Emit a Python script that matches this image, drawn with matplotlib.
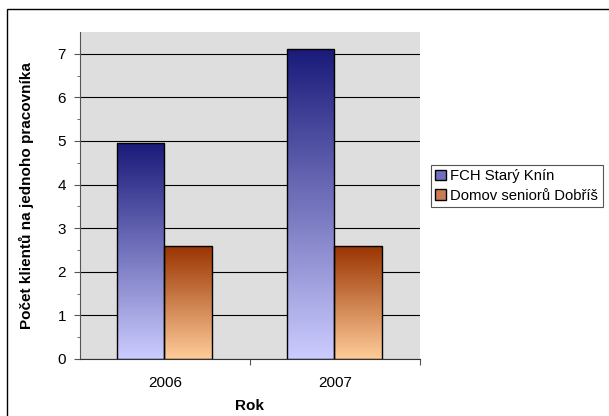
import numpy as np
import matplotlib.pyplot as plt
from matplotlib.colors import LinearSegmentedColormap
from matplotlib.patches import Rectangle, Patch

plt.rcParams['font.family'] = ['Liberation Sans', 'DejaVu Sans']

years = ['2006', '2007']
series = ['FCH Starý Knín', 'Domov seniorů Dobříš']
stary_knin = [4.95, 7.1]
dobris = [2.6, 2.6]

# top (dark) -> bottom (light) colours for each series
grad_colors = [('#1a1a7a', '#ccccff'), ('#993300', '#ffcc99')]


def gradient_bars(ax, bars, top_col, bottom_col):
    cmap = LinearSegmentedColormap.from_list('g', [bottom_col, top_col])
    grad = np.linspace(0, 1, 256).reshape(-1, 1)
    for b in bars:
        x0, y0 = b.get_x(), b.get_y()
        w, h = b.get_width(), b.get_height()
        im = ax.imshow(grad, cmap=cmap, origin='lower', aspect='auto',
                       extent=(x0, x0 + w, y0, y0 + h), zorder=2)
        im.set_clip_path(b)
        b.set_facecolor('none')
        b.set_zorder(3)


fig = plt.figure(figsize=(6.09, 4.16), dpi=100)
ax = fig.add_axes([80 / 609, 1 - 359 / 416, 340 / 609, 327 / 416])

# chart frame
fig.patches.append(Rectangle((7 / 609, -0.1), 1.0, 1.1 - 9 / 416, transform=fig.transFigure,
                             fill=False, edgecolor='black', linewidth=1.0))

ax.set_facecolor('#dedede')
x = np.arange(len(years))
w = 0.28
b1 = ax.bar(x - 0.145, stary_knin, w, edgecolor='black', linewidth=1.0)
b2 = ax.bar(x + 0.135, dobris, w, edgecolor='black', linewidth=1.0)
gradient_bars(ax, b1, *grad_colors[0])
gradient_bars(ax, b2, *grad_colors[1])

ax.set_xlim(-0.5, 1.5)
ax.set_ylim(0, 7.5)
ax.set_yticks(range(0, 8))
ax.set_yticks(np.arange(0.5, 7.5, 1.0), minor=True)
ax.yaxis.grid(True, color='black', linewidth=0.8, zorder=1)
ax.set_axisbelow(True)

# category boundaries carry the tick marks, labels sit at the centres
ax.set_xticks([0.5, 1.5])
ax.set_xticklabels([])
ax.set_xticks(x, minor=True)
ax.set_xticklabels(years, minor=True, fontsize=11)
ax.tick_params(axis='x', which='minor', length=0, pad=12)
ax.tick_params(axis='x', which='major', length=4, color='#555555')
ax.tick_params(axis='y', which='major', length=4, labelsize=11, color='#555555',
               pad=6)
ax.tick_params(axis='y', which='minor', length=2, color='#555555')

for s in ['top', 'right']:
    ax.spines[s].set_visible(False)
ax.spines['left'].set_color('#555555')
ax.spines['bottom'].set_color('#333333')

ax.set_xlabel('Rok', fontsize=11, fontweight='bold', labelpad=7)
ax.set_ylabel('Počet klientů na jednoho pracovníka', fontsize=11, fontweight='bold', labelpad=17)

handles = [Patch(facecolor='#6f6fc0', edgecolor='black'),
           Patch(facecolor='#cc7a50', edgecolor='black')]
leg = fig.legend(handles, series, loc='upper left', bbox_to_anchor=(431 / 609, 1 - 165 / 416),
                 borderaxespad=0, fontsize=10.7, fancybox=False, framealpha=1,
                 edgecolor='#555555', handlelength=0.7, handleheight=0.7,
                 handletextpad=0.3, borderpad=0.3, labelspacing=0.35)
leg.get_frame().set_linewidth(0.8)

fig.savefig('out.png', dpi=100)
